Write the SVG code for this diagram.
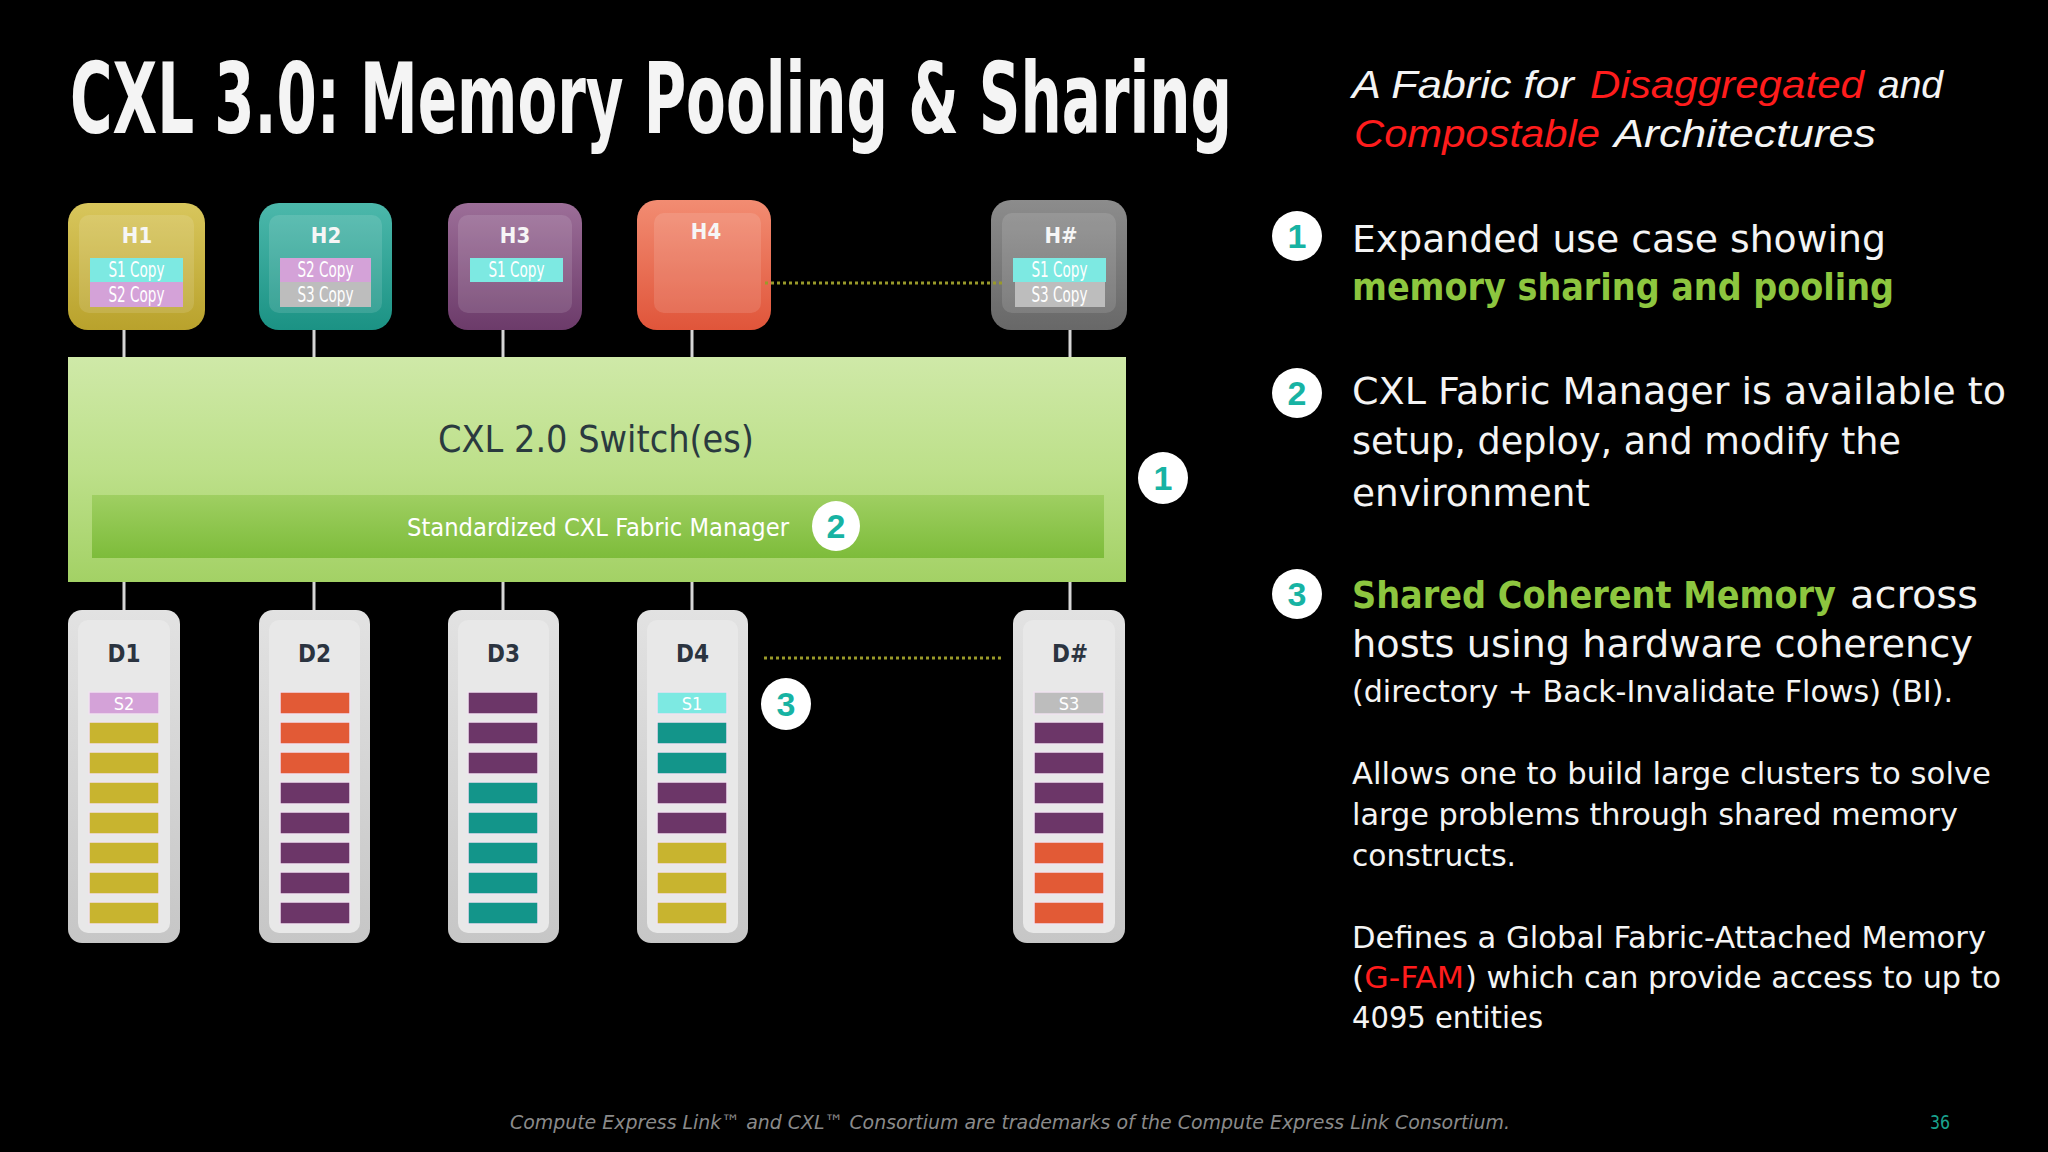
<svg xmlns="http://www.w3.org/2000/svg" width="2048" height="1152" viewBox="0 0 2048 1152">
<defs>
<style>
.f{font-family:"Liberation Sans Narrow","DejaVu Sans Condensed","Liberation Sans",Arial,sans-serif}
.w{fill:#f4f4f4}
.b{font-size:38px}
.s{font-size:30px}
.grn{fill:#8dc63f;font-weight:bold}
.red{fill:#ff1c1c}
.it{font-family:"Liberation Sans",Arial,sans-serif;font-style:italic;font-size:38px}
.hl{font-size:22px;font-weight:bold;fill:#f6f6f6;text-anchor:middle}
.cp{font-size:21px;fill:#ffffff;text-anchor:middle}
.dl{font-size:24px;font-weight:bold;fill:#2b3440;text-anchor:middle}
.bl{font-size:18px;fill:#ffffff;text-anchor:middle}
.y{fill:#c8b42f}
.o{fill:#e25a36}
.p{fill:#6c3668}
.g{fill:#13958a}
.bar{stroke:#efe2ef;stroke-width:1.5}
.c1{fill:#7de9e2}
.c2{fill:#d4a2d8}
.c3{fill:#bdbdbd}
.conn{stroke:#d6d6d6;stroke-width:3;fill:none}
.dot{stroke:#9a9a2a;stroke-width:3;stroke-dasharray:3 3;fill:none}
.num{fill:#ffffff}
.nt{font-family:"Liberation Sans",Arial,sans-serif;font-weight:bold;font-size:34px;fill:#17b3a3;text-anchor:middle}
.panel{fill:#ffffff;fill-opacity:0.12}
.dpanel{fill:#e8e8e8}
</style>
<linearGradient id="gH1" x1="0" y1="0" x2="0" y2="1"><stop offset="0" stop-color="#d8c65c"/><stop offset="1" stop-color="#b9a22c"/></linearGradient>
<linearGradient id="gH2" x1="0" y1="0" x2="0" y2="1"><stop offset="0" stop-color="#4cb8ab"/><stop offset="1" stop-color="#1b9284"/></linearGradient>
<linearGradient id="gH3" x1="0" y1="0" x2="0" y2="1"><stop offset="0" stop-color="#9c6e98"/><stop offset="1" stop-color="#6c3b6a"/></linearGradient>
<linearGradient id="gH4" x1="0" y1="0" x2="0" y2="1"><stop offset="0" stop-color="#f28c72"/><stop offset="1" stop-color="#e0553a"/></linearGradient>
<linearGradient id="gH5" x1="0" y1="0" x2="0" y2="1"><stop offset="0" stop-color="#8c8c8c"/><stop offset="1" stop-color="#686868"/></linearGradient>
<linearGradient id="gD" x1="0" y1="0" x2="0" y2="1"><stop offset="0" stop-color="#e2e2e2"/><stop offset="1" stop-color="#c6c6c6"/></linearGradient>
<linearGradient id="gSw" x1="0" y1="0" x2="0" y2="1"><stop offset="0" stop-color="#cfe9a8"/><stop offset="0.5" stop-color="#bde08a"/><stop offset="1" stop-color="#a3d165"/></linearGradient>
<linearGradient id="gFm" x1="0" y1="0" x2="0" y2="1"><stop offset="0" stop-color="#9fcf62"/><stop offset="1" stop-color="#7dbc3a"/></linearGradient>
</defs>
<rect x="0" y="0" width="2048" height="1152" fill="#000000"/>

<text class="f w" transform="translate(70,133) scale(1,1.53)" x="0" y="0" font-size="64" font-weight="bold" textLength="1162" lengthAdjust="spacingAndGlyphs">CXL 3.0: Memory Pooling &amp; Sharing</text>

<g id="connectors">
<line class="conn" x1="124" y1="330" x2="124" y2="357"/>
<line class="conn" x1="314" y1="330" x2="314" y2="357"/>
<line class="conn" x1="503" y1="330" x2="503" y2="357"/>
<line class="conn" x1="692" y1="330" x2="692" y2="357"/>
<line class="conn" x1="1070" y1="330" x2="1070" y2="357"/>
<line class="conn" x1="124" y1="582" x2="124" y2="610"/>
<line class="conn" x1="314" y1="582" x2="314" y2="610"/>
<line class="conn" x1="503" y1="582" x2="503" y2="610"/>
<line class="conn" x1="692" y1="582" x2="692" y2="610"/>
<line class="conn" x1="1070" y1="582" x2="1070" y2="610"/>
</g>

<g id="switch">
<rect x="68" y="357" width="1058" height="225" fill="url(#gSw)"/>
<rect x="92" y="495" width="1012" height="63" fill="url(#gFm)"/>
<text class="f" x="438" y="452" font-size="38" fill="#2a3a3f" textLength="316" lengthAdjust="spacingAndGlyphs">CXL 2.0 Switch(es)</text>
<text class="f" x="407" y="536" font-size="24" fill="#ffffff" textLength="382" lengthAdjust="spacingAndGlyphs">Standardized CXL Fabric Manager</text>
</g>

<g id="H1">
<rect x="68" y="203" width="137" height="127" rx="20" fill="url(#gH1)"/>
<rect x="79" y="215" width="115" height="98" rx="10" class="panel"/>
<text class="f hl" x="137" y="243">H1</text>
<rect x="90" y="258" width="93" height="24" class="c1"/>
<rect x="90" y="282" width="93" height="25" class="c2"/>
<text class="f cp" x="136.5" y="277" textLength="56" lengthAdjust="spacingAndGlyphs">S1 Copy</text>
<text class="f cp" x="136.5" y="302" textLength="56" lengthAdjust="spacingAndGlyphs">S2 Copy</text>
</g>
<g id="H2">
<rect x="259" y="203" width="133" height="127" rx="20" fill="url(#gH2)"/>
<rect x="269" y="215" width="113" height="98" rx="10" class="panel"/>
<text class="f hl" x="326" y="243">H2</text>
<rect x="280" y="258" width="91" height="24" class="c2"/>
<rect x="280" y="282" width="91" height="25" class="c3"/>
<text class="f cp" x="325.5" y="277" textLength="56" lengthAdjust="spacingAndGlyphs">S2 Copy</text>
<text class="f cp" x="325.5" y="302" textLength="56" lengthAdjust="spacingAndGlyphs">S3 Copy</text>
</g>
<g id="H3">
<rect x="448" y="203" width="134" height="127" rx="20" fill="url(#gH3)"/>
<rect x="458" y="215" width="114" height="98" rx="10" class="panel"/>
<text class="f hl" x="515" y="243">H3</text>
<rect x="470" y="258" width="93" height="24" class="c1"/>
<text class="f cp" x="516.5" y="277" textLength="56" lengthAdjust="spacingAndGlyphs">S1 Copy</text>
</g>
<g id="H4">
<rect x="637" y="200" width="134" height="130" rx="20" fill="url(#gH4)"/>
<rect x="654" y="213" width="107" height="100" rx="10" class="panel"/>
<text class="f hl" x="706" y="239">H4</text>
</g>
<g id="Hn">
<rect x="991" y="200" width="136" height="130" rx="20" fill="url(#gH5)"/>
<rect x="1002" y="213" width="114" height="100" rx="10" class="panel"/>
<text class="f hl" x="1061" y="243">H#</text>
<rect x="1013" y="258" width="93" height="24" class="c1"/>
<rect x="1015" y="282" width="90" height="25" class="c3"/>
<text class="f cp" x="1059.5" y="277" textLength="56" lengthAdjust="spacingAndGlyphs">S1 Copy</text>
<text class="f cp" x="1059.5" y="302" textLength="56" lengthAdjust="spacingAndGlyphs">S3 Copy</text>
</g>

<g id="dotted">
<line class="dot" x1="765" y1="283" x2="1004" y2="283"/>
<line class="dot" x1="764" y1="658" x2="1003" y2="658"/>
</g>

<g id="D1">
<rect x="68" y="610" width="112" height="333" rx="14" fill="url(#gD)"/>
<rect x="78" y="620" width="92" height="313" rx="10" class="dpanel"/>
<text class="f dl" x="124" y="662">D1</text>
<rect class="bar c2" x="89" y="692" width="70" height="22"/>
<text class="f bl" x="124" y="710">S2</text>
<rect class="bar y" x="89" y="722" width="70" height="22"/>
<rect class="bar y" x="89" y="752" width="70" height="22"/>
<rect class="bar y" x="89" y="782" width="70" height="22"/>
<rect class="bar y" x="89" y="812" width="70" height="22"/>
<rect class="bar y" x="89" y="842" width="70" height="22"/>
<rect class="bar y" x="89" y="872" width="70" height="22"/>
<rect class="bar y" x="89" y="902" width="70" height="22"/>
</g>
<g id="D2">
<rect x="259" y="610" width="111" height="333" rx="14" fill="url(#gD)"/>
<rect x="269" y="620" width="91" height="313" rx="10" class="dpanel"/>
<text class="f dl" x="314.5" y="662">D2</text>
<rect class="bar o" x="280" y="692" width="70" height="22"/>
<rect class="bar o" x="280" y="722" width="70" height="22"/>
<rect class="bar o" x="280" y="752" width="70" height="22"/>
<rect class="bar p" x="280" y="782" width="70" height="22"/>
<rect class="bar p" x="280" y="812" width="70" height="22"/>
<rect class="bar p" x="280" y="842" width="70" height="22"/>
<rect class="bar p" x="280" y="872" width="70" height="22"/>
<rect class="bar p" x="280" y="902" width="70" height="22"/>
</g>
<g id="D3">
<rect x="448" y="610" width="111" height="333" rx="14" fill="url(#gD)"/>
<rect x="458" y="620" width="91" height="313" rx="10" class="dpanel"/>
<text class="f dl" x="503.5" y="662">D3</text>
<rect class="bar p" x="468" y="692" width="70" height="22"/>
<rect class="bar p" x="468" y="722" width="70" height="22"/>
<rect class="bar p" x="468" y="752" width="70" height="22"/>
<rect class="bar g" x="468" y="782" width="70" height="22"/>
<rect class="bar g" x="468" y="812" width="70" height="22"/>
<rect class="bar g" x="468" y="842" width="70" height="22"/>
<rect class="bar g" x="468" y="872" width="70" height="22"/>
<rect class="bar g" x="468" y="902" width="70" height="22"/>
</g>
<g id="D4">
<rect x="637" y="610" width="111" height="333" rx="14" fill="url(#gD)"/>
<rect x="647" y="620" width="91" height="313" rx="10" class="dpanel"/>
<text class="f dl" x="692.5" y="662">D4</text>
<rect class="bar c1" x="657" y="692" width="70" height="22"/>
<text class="f bl" x="692" y="710">S1</text>
<rect class="bar g" x="657" y="722" width="70" height="22"/>
<rect class="bar g" x="657" y="752" width="70" height="22"/>
<rect class="bar p" x="657" y="782" width="70" height="22"/>
<rect class="bar p" x="657" y="812" width="70" height="22"/>
<rect class="bar y" x="657" y="842" width="70" height="22"/>
<rect class="bar y" x="657" y="872" width="70" height="22"/>
<rect class="bar y" x="657" y="902" width="70" height="22"/>
</g>
<g id="Dn">
<rect x="1013" y="610" width="112" height="333" rx="14" fill="url(#gD)"/>
<rect x="1023" y="620" width="92" height="313" rx="10" class="dpanel"/>
<text class="f dl" x="1070" y="662">D#</text>
<rect class="bar c3" x="1034" y="692" width="70" height="22"/>
<text class="f bl" x="1069" y="710">S3</text>
<rect class="bar p" x="1034" y="722" width="70" height="22"/>
<rect class="bar p" x="1034" y="752" width="70" height="22"/>
<rect class="bar p" x="1034" y="782" width="70" height="22"/>
<rect class="bar p" x="1034" y="812" width="70" height="22"/>
<rect class="bar o" x="1034" y="842" width="70" height="22"/>
<rect class="bar o" x="1034" y="872" width="70" height="22"/>
<rect class="bar o" x="1034" y="902" width="70" height="22"/>
</g>

<g id="callouts">
<ellipse class="num" cx="1163" cy="478" rx="25" ry="26"/>
<text class="nt" x="1163" y="490">1</text>
<ellipse class="num" cx="836" cy="526" rx="24" ry="25"/>
<text class="nt" x="836" y="538">2</text>
<ellipse class="num" cx="786" cy="704" rx="25" ry="26"/>
<text class="nt" x="786" y="716">3</text>
<ellipse class="num" cx="1297" cy="236" rx="25" ry="25"/>
<text class="nt" x="1297" y="248">1</text>
<ellipse class="num" cx="1297" cy="393" rx="25" ry="25"/>
<text class="nt" x="1297" y="405">2</text>
<ellipse class="num" cx="1297" cy="594" rx="25" ry="25"/>
<text class="nt" x="1297" y="606">3</text>
</g>

<g id="text-right">
<text class="w it" x="1352" y="98" textLength="222" lengthAdjust="spacingAndGlyphs">A Fabric for</text>
<text class="red it" x="1590" y="98" textLength="274" lengthAdjust="spacingAndGlyphs">Disaggregated</text>
<text class="w it" x="1878" y="98" textLength="65" lengthAdjust="spacingAndGlyphs">and</text>
<text class="red it" x="1354" y="147" textLength="246" lengthAdjust="spacingAndGlyphs">Compostable</text>
<text class="w it" x="1614" y="147" textLength="262" lengthAdjust="spacingAndGlyphs">Architectures</text>

<text class="f w b" x="1352" y="252" textLength="534" lengthAdjust="spacingAndGlyphs">Expanded use case showing</text>
<text class="f b grn" x="1352" y="300" textLength="542" lengthAdjust="spacingAndGlyphs">memory sharing and pooling</text>

<text class="f w b" x="1352" y="404" textLength="654" lengthAdjust="spacingAndGlyphs">CXL Fabric Manager is available to</text>
<text class="f w b" x="1352" y="454" textLength="549" lengthAdjust="spacingAndGlyphs">setup, deploy, and modify the</text>
<text class="f w b" x="1352" y="506" textLength="238" lengthAdjust="spacingAndGlyphs">environment</text>

<text class="f b grn" x="1352" y="608" textLength="484" lengthAdjust="spacingAndGlyphs">Shared Coherent Memory</text>
<text class="f w b" x="1850" y="608" textLength="128" lengthAdjust="spacingAndGlyphs">across</text>
<text class="f w b" x="1352" y="657" textLength="621" lengthAdjust="spacingAndGlyphs">hosts using hardware coherency</text>
<text class="f w s" x="1352" y="702" textLength="601" lengthAdjust="spacingAndGlyphs">(directory + Back-Invalidate Flows) (BI).</text>

<text class="f w s" x="1352" y="784" textLength="639" lengthAdjust="spacingAndGlyphs">Allows one to build large clusters to solve</text>
<text class="f w s" x="1352" y="825" textLength="606" lengthAdjust="spacingAndGlyphs">large problems through shared memory</text>
<text class="f w s" x="1352" y="866" textLength="164" lengthAdjust="spacingAndGlyphs">constructs.</text>

<text class="f w s" x="1352" y="948" textLength="634" lengthAdjust="spacingAndGlyphs">Defines a Global Fabric-Attached Memory</text>
<text class="f w s" x="1352" y="988" textLength="112" lengthAdjust="spacingAndGlyphs">(<tspan class="red">G-FAM</tspan></text>
<text class="f w s" x="1465" y="988" textLength="536" lengthAdjust="spacingAndGlyphs">) which can provide access to up to</text>
<text class="f w s" x="1352" y="1028" textLength="191" lengthAdjust="spacingAndGlyphs">4095 entities</text>
</g>

<g id="footer">
<text class="f" x="510" y="1129" font-size="20" font-style="italic" fill="#8a8a8a" textLength="1000" lengthAdjust="spacingAndGlyphs">Compute Express Link™ and CXL™ Consortium are trademarks of the Compute Express Link Consortium.</text>
<text class="f" x="1930" y="1129" font-size="20" fill="#1aa38f" textLength="20" lengthAdjust="spacingAndGlyphs">36</text>
</g>
</svg>
